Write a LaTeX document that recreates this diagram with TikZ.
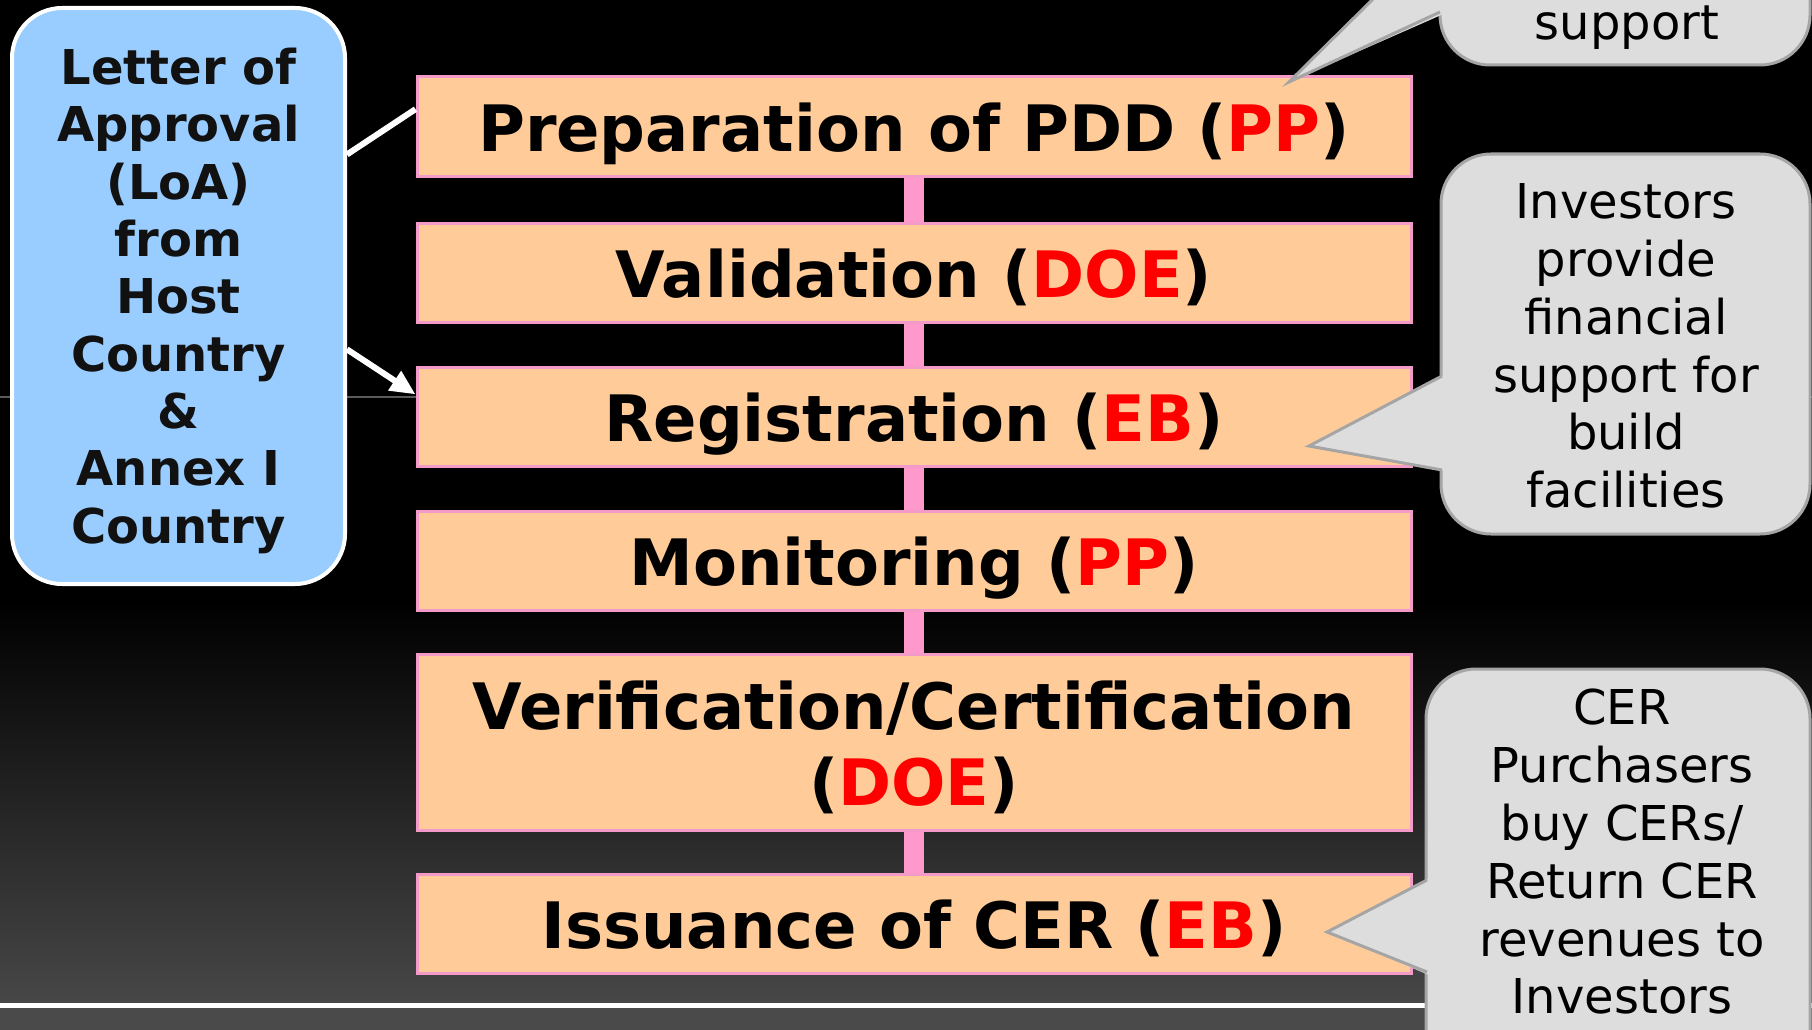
\documentclass[tikz,border=0pt]{standalone}
\usepackage{fontspec}
\setmainfont{DejaVu Sans}
\usetikzlibrary{arrows.meta,calc}
\definecolor{peach}{HTML}{FFCC99}
\definecolor{pinkb}{HTML}{F49AC8}
\definecolor{pinkc}{HTML}{FF99CC}
\definecolor{loafill}{HTML}{99CCFF}
\definecolor{callfill}{HTML}{DDDDDD}
\definecolor{callline}{HTML}{A5A5A5}
\definecolor{bgbot}{HTML}{474747}
\definecolor{bgfoot}{HTML}{4A4A4A}
\definecolor{thinline}{HTML}{5A5A5A}
\definecolor{redtx}{HTML}{FF0000}
\definecolor{loatext}{HTML}{111111}
\newcommand\redtxt[1]{\textcolor{redtx}{#1}}
\tikzset{
  stepbox/.style={draw=pinkb, fill=peach, line width=3pt, minimum width=994pt,
    minimum height=99pt, inner sep=0pt, align=center, text=black,
    text height=49pt, text depth=0pt,
    font=\bfseries\fontsize{64}{76}\selectfont},
  link/.style={line width=20pt, draw=pinkc},
  loabox/.style={draw=white, fill=loafill, line width=4pt, rounded corners=50pt,
    minimum width=333pt, minimum height=576pt, inner sep=0pt, align=center,
    text=loatext, font=\bfseries\fontsize{48}{57.3}\selectfont},
  loaline/.style={draw=white, line width=6pt},
  calloutbox/.style={fill=callfill, draw=callline, line width=3pt, rounded corners=50pt},
  pointerfill/.style={fill=callfill},
  pointerline/.style={draw=callline, line width=3pt, line join=miter},
  callouttext/.style={align=center, text=black, inner sep=0pt,
    font=\fontsize{48}{57.8}\selectfont}
}
\begin{document}
\begin{tikzpicture}[x=1pt,y=-1pt]
\useasboundingbox (0,0) rectangle (1812,1030);
\clip (0,0) rectangle (1812,1030);
% background
\fill[black] (0,0) rectangle (1812,1030);
\shade[top color=black, bottom color=bgbot] (0,600) rectangle (1812,1003);
\fill[white] (0,1003) rectangle (1812,1008);
\fill[bgfoot] (0,1008) rectangle (1812,1030);
\draw[thinline, line width=1.5pt] (0,397) -- (1812,397);

% main steps
\node[stepbox] (prep) at (914,126.5) {Preparation of PDD (\redtxt{PP})};
\node[stepbox] (val) at (914,272.5) {Validation (\redtxt{DOE})};
\node[stepbox] (reg) at (914,416.5) {Registration (\redtxt{EB})};
\node[stepbox] (mon) at (914,560.5) {Monitoring (\redtxt{PP})};
\node[stepbox, minimum height=176pt, text height=126pt, text depth=0pt] (ver) at (914,742) {Verification/Certification\\(\redtxt{DOE})};
\node[stepbox] (iss) at (914,923.5) {Issuance of CER (\redtxt{EB})};

\draw[link] (prep.south) -- (val.north);
\draw[link] (val.south) -- (reg.north);
\draw[link] (reg.south) -- (mon.north);
\draw[link] (mon.south) -- (ver.north);
\draw[link] (ver.south) -- (iss.north);

% LoA box
\node[loabox, text height=494pt, text depth=0pt] (loa) at (178.5,296) {Letter of\\Approval\\(LoA)\\from\\Host\\Country\\\&\\Annex I\\Country};
\draw[loaline] ($(loa.north east)!0.256!(loa.south east)$) -- ($(prep.north west)!0.33!(prep.south west)$);
\draw[loaline, -{Triangle[length=25pt,width=22pt]}] ($(loa.north east)!0.592!(loa.south east)$) -- ($(reg.north west)!0.283!(reg.south west)$);

% callout 1 (top, cut off)
\path[calloutbox] (1440,-120) rectangle (1810,65);
\fill[pointerfill] (1289,82) -- (1448,-75) -- (1448,12) -- cycle;
\draw[pointerline] (1440,-67) -- (1289,82) -- (1440,12);
\node[callouttext, anchor=base] (sup) at (1627,40) {support};

% callout 2
\path[calloutbox] (1441,154) rectangle (1810,534);
\fill[pointerfill] (1309,446) -- (1452,371) -- (1452,472) -- cycle;
\draw[pointerline] (1442,376) -- (1309,446) -- (1442,470);
\node[callouttext] (inv) at (1626,346) {Investors\\provide\\financial\\support for\\build\\facilities};

% callout 3
\path[calloutbox] (1426,669) rectangle (1810,1090);
\fill[pointerfill] (1327,932) -- (1436,875) -- (1436,978) -- cycle;
\draw[pointerline] (1427,880) -- (1327,932) -- (1427,972);
\node[callouttext] (cer) at (1622,852) {CER\\Purchasers\\buy CERs/\\Return CER\\revenues to\\Investors};
\end{tikzpicture}
\end{document}
